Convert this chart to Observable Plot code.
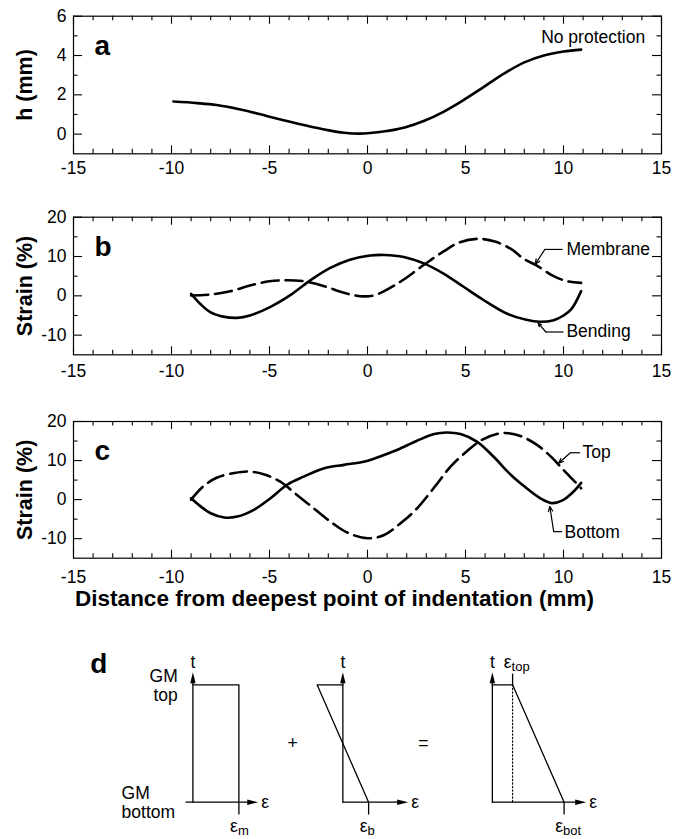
<!DOCTYPE html>
<html>
<head>
<meta charset="utf-8">
<script src="https://cdn.jsdelivr.net/npm/d3@7"></script>
<script src="https://cdn.jsdelivr.net/npm/@observablehq/plot@0.6"></script>
<style>
  html, body { margin: 0; padding: 0; background: #fff; }
  #fig { position: relative; width: 685px; height: 839px; background: #fff; overflow: hidden; }
  #fig > svg { position: absolute; left: 0; }
</style>
</head>
<body>
<div id="fig"></div>
<script>
// ================= DATA =================
// shared x axis
const xTicks = [-15, -10, -5, 0, 5, 10, 15];
const xMinor = [-14,-13,-12,-11,-9,-8,-7,-6,-4,-3,-2,-1,1,2,3,4,6,7,8,9,11,12,13,14];

// panel a : surface profile h (mm), "No protection"
const aTicks = [0, 2, 4, 6];
const aMinor = [1, 3, 5];
const aX = [-9.9,-8.7,-7.7,-6.3,-5.0,-3.6,-2.2,-1.2,-0.2,0.8,1.9,2.9,3.9,4.9,5.9,7.0,8.0,9.0,10.0,10.9];
const aH = [1.66,1.58,1.48,1.22,0.88,0.54,0.24,0.07,0.03,0.13,0.34,0.68,1.15,1.73,2.38,3.1,3.65,4.0,4.2,4.3];

// panels b, c : strain (%)
const sTicks = [-10, 0, 10, 20];
const sMinor = [-5, 5, 15];

// panel b : bending (solid) and membrane (dashed)
const bendX = [-9.0,-8.5,-8.0,-7.3,-6.65,-6.0,-4.95,-3.9,-2.9,-1.9,-0.9,0.15,0.85,1.85,2.9,3.9,4.9,5.9,7.1,8.1,8.8,9.5,10.0,10.4,10.9];
const bendY = [0.5,-2.2,-4.2,-5.35,-5.6,-5.0,-2.8,0.3,4.0,7.1,9.2,10.25,10.4,9.9,8.2,5.6,2.3,-1.0,-4.5,-6.1,-6.6,-6.2,-5.0,-3.4,1.2];
const memX  = [-9.0,-8.0,-7.0,-6.0,-5.0,-4.1,-3.25,-2.2,-1.2,-0.35,0.3,1.0,1.85,2.9,3.9,4.7,5.6,6.5,7.3,8.0,8.6,9.5,10.2,10.9];
const memY  = [0.08,0.33,1.17,2.6,3.7,3.97,3.7,2.45,0.76,-0.1,0.08,1.6,4.15,7.96,11.35,13.6,14.5,13.8,12.0,9.3,7.8,5.0,3.7,3.3];

// panel c : bottom (solid) and top (dashed)
const botX = [-9.0,-8.5,-8.0,-7.3,-6.65,-5.8,-4.95,-4.1,-3.25,-2.2,-1.2,-0.2,0.5,1.5,2.5,3.4,4.05,4.75,5.6,6.45,7.2,7.8,8.8,9.4,9.95,10.5,10.9];
const botY = [0.35,-1.8,-3.5,-4.6,-4.35,-2.6,0.35,3.8,5.9,8.05,8.9,9.7,10.8,12.7,15.0,16.8,17.2,16.8,14.8,10.9,6.9,4.2,0.4,-0.9,-0.2,2.0,4.3];
const topX = [-9.0,-8.4,-7.7,-6.8,-6.1,-5.3,-4.45,-3.6,-2.75,-1.9,-1.05,0,0.85,1.7,2.5,3.4,4.25,5.1,5.8,6.6,7.2,7.8,8.65,9.4,10.0,10.5,10.9];
const topY = [0,3.3,5.6,6.8,7.2,6.5,4.6,1.2,-2.2,-5.6,-8.4,-9.9,-9.05,-6.0,-2.4,3.1,8.5,12.5,15.2,16.8,17.0,16.3,14.0,10.8,7.6,5.0,2.9];

// labels
const panelLetters = ["a", "b", "c", "d"];
const yLabels = ["h (mm)", "Strain (%)", "Strain (%)"];
const xTitle = "Distance from deepest point of indentation (mm)";
const seriesNames = ["No protection", "Membrane", "Bending", "Top", "Bottom"];

// callouts (label anchor, leader elbow, leader tip) in data units
const callB = [
  {label: "Membrane", tx: 10.15, ty: 11.8, h1: 9.95, h2: 9.05, hy: 11.8, ax: 8.55, ay: 8.0},
  {label: "Bending",  tx: 10.15, ty: -9.0, h1: 10.0, h2: 9.1,  hy: -9.2, ax: 8.7,  ay: -6.9}
];
const callC = [
  {label: "Top",    tx: 10.97, ty: 12.2, h1: 10.85, h2: 10.35, hy: 12.0, ax: 9.75, ay: 9.3},
  {label: "Bottom", tx: 10.05, ty: -8.3, h1: 9.93,  h2: 9.5,   hy: -8.2, ax: 9.3,  ay: -1.7}
];

// panel d : schematic strain through geomembrane thickness
const epsM = 1.0;     // membrane strain (schematic unit)
const epsB = 0.56;    // bending strain amplitude (schematic unit)
const epsTop = epsM - epsB;
const epsBot = epsM + epsB;
const dSubs = ["m", "b", "bot", "top"];
const gmLabels = ["GM", "top", "GM", "bottom"];

// ================= DRAWING =================
const FONT = "'Liberation Sans', Arial, Helvetica, sans-serif";
const fig = document.getElementById("fig");
const W = 685, ML = 73, MR = 24;
const rows = (xs, ys) => xs.map((x, i) => ({x, y: ys[i]}));

function panel({top, height, mt, mb, yDomain, yMajor, yMin, ylabel, letter, lines, calls, notes = [], tickPad, extra = []}) {
  const fw = W - ML - MR, fh = height - mt - mb;
  const marks = [
    Plot.tickX(xTicks, {x: d => d, insetTop: fh - 8, strokeWidth: 1.1}),
    Plot.tickX(xTicks, {x: d => d, insetBottom: fh - 8, strokeWidth: 1.1}),
    Plot.tickX(xMinor, {x: d => d, insetTop: fh - 4.5, strokeWidth: 1.1}),
    Plot.tickX(xMinor, {x: d => d, insetBottom: fh - 4.5, strokeWidth: 1.1}),
    Plot.tickY(yMajor, {y: d => d, insetRight: fw - 9, strokeWidth: 1.1}),
    Plot.tickY(yMajor, {y: d => d, insetLeft: fw - 9, strokeWidth: 1.1}),
    Plot.tickY(yMin, {y: d => d, insetRight: fw - 4.5, strokeWidth: 1.1}),
    Plot.tickY(yMin, {y: d => d, insetLeft: fw - 4.5, strokeWidth: 1.1}),
    Plot.frame({stroke: "black", strokeWidth: 1.2}),
    Plot.axisX(xTicks, {tickSize: 0, tickPadding: tickPad, tickFormat: d => String(d), fontSize: 17.5, label: null}),
    Plot.axisY(yMajor, {tickSize: 0, tickPadding: 7, tickFormat: d => String(d), fontSize: 17.5, label: null}),
    Plot.text([ylabel], {text: d => d, frameAnchor: "left", textAnchor: "middle", rotate: -90, dx: -48.5, fontWeight: "bold", fontSize: 21.5}),
    Plot.text([letter], {text: d => d, frameAnchor: "top-left", textAnchor: "start", lineAnchor: "top", dx: 21, dy: 19, fontWeight: "bold", fontSize: 28}),
    ...lines.map(l => Plot.line(l.data, {x: "x", y: "y", curve: "catmull-rom", strokeWidth: 2.6, stroke: "black",
      strokeDasharray: l.dashed ? "17,7" : null})),
    ...calls.flatMap(c => [
      Plot.link([c], {x1: "h1", x2: "h2", y1: "hy", y2: "hy", strokeWidth: 1.2}),
      Plot.arrow([c], {x1: "h2", y1: "hy", x2: "ax", y2: "ay", strokeWidth: 1.2, headLength: 7, headAngle: 45}),
      Plot.text([c], {x: "tx", y: "ty", text: "label", textAnchor: "start", fontSize: 17.5})
    ]),
    ...notes,
    ...extra
  ];
  const svg = Plot.plot({
    width: W, height, marginLeft: ML, marginRight: MR, marginTop: mt, marginBottom: mb,
    x: {domain: [-15, 15]}, y: {domain: yDomain},
    style: {fontFamily: FONT, fontSize: "17.5px", color: "black", background: "transparent", overflow: "visible"},
    marks
  });
  svg.style.top = top + "px";
  fig.appendChild(svg);
}

// panel a
panel({
  top: 0, height: 185, mt: 15.7, mb: 31.7, yDomain: [-1, 6], yMajor: aTicks, yMin: aMinor,
  ylabel: yLabels[0], letter: panelLetters[0], tickPad: 8,
  lines: [{data: rows(aX, aH), dashed: false}], calls: [],
  notes: [Plot.text([seriesNames[0]], {text: d => d, x: 14.17, y: 4.91, textAnchor: "end", fontSize: 17.5})]
});

// panel b
panel({
  top: 200, height: 185, mt: 16.7, mb: 30.7, yDomain: [-15, 20], yMajor: sTicks, yMin: sMinor,
  ylabel: yLabels[1], letter: panelLetters[1], tickPad: 9.5,
  lines: [{data: rows(bendX, bendY), dashed: false}, {data: rows(memX, memY), dashed: true}],
  calls: callB
});

// panel c
panel({
  top: 400, height: 225, mt: 21, mb: 67.3, yDomain: [-15, 20], yMajor: sTicks, yMin: sMinor,
  ylabel: yLabels[2], letter: panelLetters[2], tickPad: 12,
  lines: [{data: rows(botX, botY), dashed: false}, {data: rows(topX, topY), dashed: true}],
  calls: callC,
  extra: [Plot.text([xTitle], {text: d => d, frameAnchor: "bottom", textAnchor: "middle", dx: -33, dy: 47.3, fontWeight: "bold", fontSize: 22.5})]
});

// panel d : schematic
(function () {
  const top = 625, height = 214;
  const OFF = [0, 3.26, 6.51];          // horizontal placement of the three sketches
  const axisLen = [1.42, 1.42, 2.04];   // length of the strain axis of each sketch
  const tArrow = 1.107;
  const headUp = {draw(ctx) { ctx.moveTo(0, 0); ctx.lineTo(-2.7, 11); ctx.lineTo(2.7, 11); ctx.closePath(); }};
  const headRight = {draw(ctx) { ctx.moveTo(0, 0); ctx.lineTo(-11, -2.7); ctx.lineTo(-11, 2.7); ctx.closePath(); }};
  const profiles = [
    [[0, 1], [epsM, 1], [epsM, -0.1]],
    [[0, 1], [-epsB, 1], [epsB, 0], [epsB, -0.1]],
    [[0, 1], [epsTop, 1], [epsBot, 0], [epsBot, -0.1]]
  ];
  const ks = [0, 1, 2];
  const lw = 1.3;
  const marks = [];
  ks.forEach(k => {
    const ox = OFF[k];
    marks.push(Plot.line([[0, 0], [0, tArrow - 0.05]], {x: d => ox + d[0], y: d => d[1], strokeWidth: lw}));
    marks.push(Plot.line([[k === 0 ? -0.15 : 0, 0], [axisLen[k] - 0.1, 0]], {x: d => ox + d[0], y: d => d[1], strokeWidth: lw}));
    marks.push(Plot.dot([[0, tArrow]], {x: d => ox + d[0], y: d => d[1], symbol: headUp, r: 4, fill: "black", stroke: null}));
    marks.push(Plot.dot([[axisLen[k], 0]], {x: d => ox + d[0], y: d => d[1], symbol: headRight, r: 4, fill: "black", stroke: null}));
    marks.push(Plot.line(profiles[k], {x: d => ox + d[0], y: d => d[1], strokeWidth: lw}));
    marks.push(Plot.text(["t"], {text: d => d, x: ox, y: 1.19, fontSize: 17.5}));
    marks.push(Plot.text(["ε"], {text: d => d, x: ox + axisLen[k], y: 0, dx: 3, textAnchor: "start", fontSize: 17.5}));
  });
  // tick above ε_top and dotted line
  marks.push(Plot.line([[epsTop, 1], [epsTop, 1.09]], {x: d => OFF[2] + d[0], y: d => d[1], strokeWidth: lw}));
  marks.push(Plot.line([[epsTop, 1], [epsTop, 0]], {x: d => OFF[2] + d[0], y: d => d[1], strokeWidth: 1.1, strokeDasharray: "1.5,2"}));
  // epsilon value labels
  const epsLabels = [
    {k: 0, e: epsM, t: -0.205, sub: dSubs[0]},
    {k: 1, e: epsB, t: -0.205, sub: dSubs[1]},
    {k: 2, e: epsBot, t: -0.205, sub: dSubs[2]},
    {k: 2, e: epsTop, t: 1.19, sub: dSubs[3]}
  ];
  marks.push(Plot.text(epsLabels, {x: d => OFF[d.k] + d.e, y: "t", text: () => "ε", textAnchor: "end", dx: -1, fontSize: 17.5}));
  marks.push(Plot.text(epsLabels, {x: d => OFF[d.k] + d.e, y: "t", text: "sub", textAnchor: "start", dx: -1, dy: 4.5, fontSize: 13}));
  // GM top / bottom
  marks.push(Plot.text([gmLabels[0], gmLabels[1]], {text: d => d, x: -0.33, y: (d, i) => [1.07, 0.91][i], textAnchor: "end", fontSize: 17.5}));
  marks.push(Plot.text([gmLabels[2], gmLabels[3]], {text: d => d, x: -1.55, y: (d, i) => [0.074, -0.085][i], textAnchor: "start", fontSize: 17.5}));
  // operators
  marks.push(Plot.text(["+", "="], {text: d => d, x: (d, i) => [2.17, 5.01][i], y: 0.5, fontSize: 17.5}));
  // letter
  marks.push(Plot.text([panelLetters[3]], {text: d => d, x: -2.23, y: 1.18, textAnchor: "start", fontWeight: "bold", fontSize: 28}));

  const svg = Plot.plot({
    width: W, height, margin: 0,
    x: {type: "linear", domain: [0, 1], range: [192.4, 238.4], axis: null},
    y: {type: "linear", domain: [0, 1], range: [801.7 - top, 684.3 - top], axis: null},
    style: {fontFamily: FONT, fontSize: "17.5px", color: "black", background: "transparent", overflow: "visible"},
    marks
  });
  svg.style.top = top + "px";
  fig.appendChild(svg);
})();
</script>
</body>
</html>
